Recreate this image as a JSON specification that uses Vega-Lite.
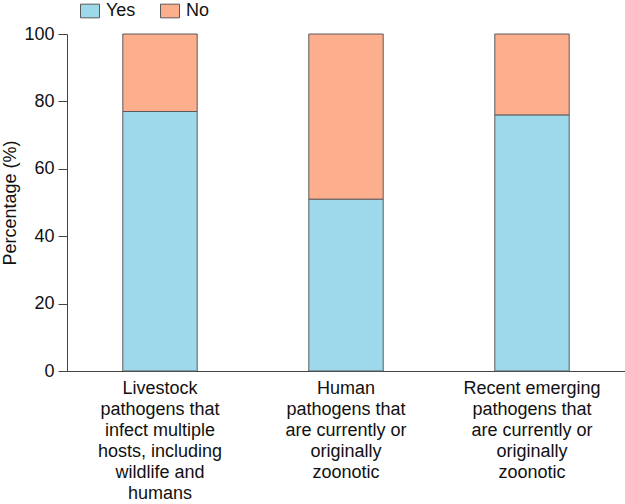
{
  "$schema": "https://vega.github.io/schema/vega-lite/v6.json",
  "autosize": "none",
  "width": 558,
  "height": 337,
  "padding": {"left": 67, "top": 34, "right": 0, "bottom": 133},
  "background": "white",
  "config": {
    "view": {"stroke": null},
    "font": "Liberation Sans"
  },
  "data": {
    "values": [
      {"category": "Livestock pathogens that infect multiple hosts, including wildlife and humans", "answer": "Yes", "percent": 77},
      {"category": "Livestock pathogens that infect multiple hosts, including wildlife and humans", "answer": "No", "percent": 23},
      {"category": "Human pathogens that are currently or originally zoonotic", "answer": "Yes", "percent": 51},
      {"category": "Human pathogens that are currently or originally zoonotic", "answer": "No", "percent": 49},
      {"category": "Recent emerging pathogens that are currently or originally zoonotic", "answer": "Yes", "percent": 76},
      {"category": "Recent emerging pathogens that are currently or originally zoonotic", "answer": "No", "percent": 24}
    ]
  },
  "mark": {"type": "bar", "stroke": "#5a5a5a", "strokeWidth": 1},
  "encoding": {
    "x": {
      "field": "category",
      "type": "nominal",
      "sort": null,
      "scale": {"paddingInner": 0.6, "paddingOuter": 0.3},
      "axis": {
        "title": null,
        "labelAngle": 0,
        "ticks": false,
        "labelPadding": 8,
        "labelFontSize": 18,
        "labelColor": "#111",
        "labelLineHeight": 21,
        "labelBaseline": "top",
        "domainColor": "#444",
        "labelExpr": "indexof(datum.label, 'Livestock') == 0 ? ['Livestock', 'pathogens that', 'infect multiple', 'hosts, including', 'wildlife and', 'humans'] : indexof(datum.label, 'Human') == 0 ? ['Human', 'pathogens that', 'are currently or', 'originally', 'zoonotic'] : ['Recent emerging', 'pathogens that', 'are currently or', 'originally', 'zoonotic']"
      }
    },
    "y": {
      "field": "percent",
      "type": "quantitative",
      "stack": "zero",
      "scale": {"domain": [0, 100]},
      "axis": {
        "title": "Percentage (%)",
        "titleFontSize": 18,
        "titleFontWeight": "normal",
        "titleColor": "#111",
        "titlePadding": 4,
        "values": [0, 20, 40, 60, 80, 100],
        "grid": false,
        "tickSize": 9,
        "tickColor": "#444",
        "domainColor": "#444",
        "labelFontSize": 18,
        "labelColor": "#111",
        "labelPadding": 4
      }
    },
    "color": {
      "field": "answer",
      "type": "nominal",
      "scale": {"domain": ["Yes", "No"], "range": ["#9dd9ea", "#fdae8d"]},
      "legend": {
        "title": null,
        "orient": "none",
        "legendX": 13,
        "legendY": -33,
        "direction": "horizontal",
        "symbolType": "M-1,-0.72L1,-0.72L1,0.72L-1,0.72Z",
        "symbolSize": 361,
        "symbolStrokeColor": "#5a5a5a",
        "symbolStrokeWidth": 1,
        "labelFontSize": 18,
        "labelColor": "#111",
        "columnPadding": 22,
        "labelOffset": 6
      }
    },
    "order": {"field": "answer", "sort": "descending"}
  }
}
